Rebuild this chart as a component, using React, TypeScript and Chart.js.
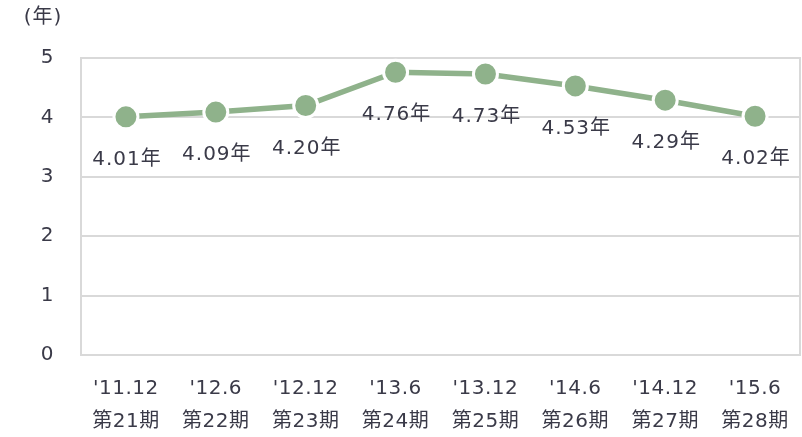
import React, { useEffect, useRef } from "react";
import { Chart, registerables } from "chart.js";

Chart.register(...registerables);

const periods = ["'11.12", "'12.6", "'12.12", "'13.6", "'13.12", "'14.6", "'14.12", "'15.6"];
const terms = ["第21期", "第22期", "第23期", "第24期", "第25期", "第26期", "第27期", "第28期"];
const years = [4.01, 4.09, 4.2, 4.76, 4.73, 4.53, 4.29, 4.02];
const yTicks = [0, 1, 2, 3, 4, 5];
const unitLabel = "(年)";
const valueSuffix = "年";

const FONT = '"DejaVu Sans", "Noto Sans CJK JP", sans-serif';
const TEXT = "#3a3a48";
const GRID = "#d9d9d9";
const GREEN = "#8fb28b";

export default function App() {
  const ref = useRef<HTMLCanvasElement>(null);
  useEffect(() => {
    const canvas = ref.current!;
    const spacing = {
      id: "spacing",
      beforeUpdate(chart: any) {
        chart.ctx.letterSpacing = "0.5px";
      },
    };
    const extras = {
      id: "extras",
      afterDatasetsDraw(chart: any) {
        const ctx = chart.ctx;
        const meta = chart.getDatasetMeta(0);
        ctx.save();
        ctx.letterSpacing = "1px";
        ctx.font = `20px ${FONT}`;
        ctx.fillStyle = TEXT;
        ctx.textAlign = "center";
        ctx.textBaseline = "middle";
        meta.data.forEach((pt: any, i: number) => {
          ctx.fillText(`${years[i].toFixed(2)}${valueSuffix}`, pt.x + 1, pt.y + 43);
        });
        ctx.fillText(unitLabel, 43, 18);
        ctx.restore();
      },
      beforeDatasetsDraw(chart: any) {
        const { ctx, chartArea } = chart;
        ctx.save();
        ctx.strokeStyle = GRID;
        ctx.lineWidth = 2;
        ctx.strokeRect(chartArea.left, chartArea.top, chartArea.right - chartArea.left, chartArea.bottom - chartArea.top);
        ctx.restore();
      },
    };
    const chart = new Chart(canvas, {
      type: "line",
      data: {
        labels: periods.map((p, i) => [p, terms[i]]),
        datasets: [
          {
            data: years,
            borderColor: GREEN,
            backgroundColor: GREEN,
            borderWidth: 5.5,
            pointRadius: 12,
            pointHoverRadius: 12,
            pointBackgroundColor: GREEN,
            pointBorderColor: "#ffffff",
            pointBorderWidth: 3,
            tension: 0,
          },
        ],
      },
      options: {
        animation: false,
        responsive: false,
        events: [],
        layout: { autoPadding: false, padding: { top: 58, right: 2, left: 0, bottom: 0 } },
        plugins: { legend: { display: false }, tooltip: { enabled: false } },
        scales: {
          x: {
            offset: true,
            grid: { display: false, drawTicks: false },
            border: { display: false },
            ticks: {
              color: TEXT,
              font: { family: FONT, size: 20, lineHeight: 1.65 },
              padding: 17,
              maxRotation: 0,
              autoSkip: false,
            },
            afterFit(scale: any) {
              scale.height = 82;
              scale.paddingLeft = 0;
              scale.paddingRight = 0;
            },
          },
          y: {
            min: 0,
            max: 5,
            grid: { color: GRID, lineWidth: 2, drawTicks: false },
            border: { display: false },
            afterBuildTicks(scale: any) {
              scale.ticks = yTicks.map((v) => ({ value: v }));
            },
            ticks: {
              color: TEXT,
              font: { family: FONT, size: 20 },
              padding: 27,
            },
            afterFit(scale: any) {
              scale.width = 81;
              scale.paddingTop = 0;
              scale.paddingBottom = 0;
            },
          },
        },
      },
      plugins: [spacing, extras],
    } as any);
    return () => chart.destroy();
  }, []);
  return (
    <div style={{ position: "absolute", left: 0, top: 0, width: 802, height: 437, background: "#fff" }}>
      <canvas ref={ref} width={802} height={437} style={{ display: "block" }} />
    </div>
  );
}
